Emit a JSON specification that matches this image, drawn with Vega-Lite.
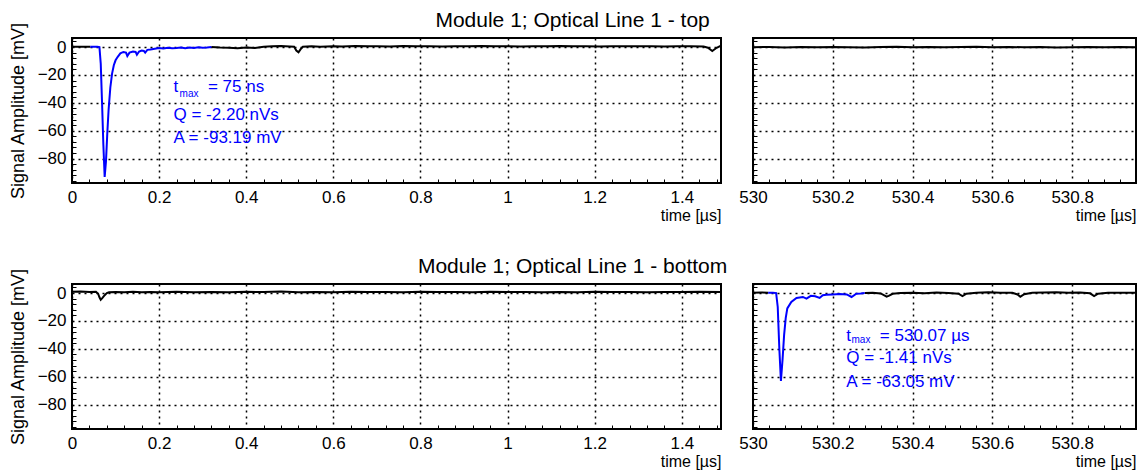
{
  "$schema": "https://vega.github.io/schema/vega-lite/v6.json",
  "padding": {"left": 8, "top": 9, "right": 5, "bottom": 5},
  "config": {
    "font": "Liberation Sans",
    "view": {"stroke": "#000000", "strokeWidth": 2},
    "axis": {"gridColor": "#000000", "gridDash": [2, 4], "gridWidth": 1.5, "gridOpacity": 1, "domain": false, "ticks": false, "labelFont": "Liberation Sans", "labelFontSize": 17, "labelColor": "#000000", "titleFont": "Liberation Sans", "titleFontSize": 16, "titleFontWeight": "normal", "titleColor": "#000000", "labelFlush": false, "labelOverlap": false, "labelBound": false, "minExtent": 0},
    "title": {"font": "Liberation Sans", "fontSize": 21, "fontWeight": "normal", "color": "#000000", "anchor": "middle", "offset": -10}
  },
  "datasets": {
    "wave": [
      {"p": "tl", "s": "k", "g": "a", "t": 0, "v": 0.3},
      {"p": "tl", "s": "k", "g": "a", "t": 0.02, "v": 0.2},
      {"p": "tl", "s": "k", "g": "a", "t": 0.042, "v": 0.3},
      {"p": "tl", "s": "k", "g": "b", "t": 0.32, "v": 0.1},
      {"p": "tl", "s": "k", "g": "b", "t": 0.34, "v": -0.3},
      {"p": "tl", "s": "k", "g": "b", "t": 0.36, "v": -0.5},
      {"p": "tl", "s": "k", "g": "b", "t": 0.38, "v": -0.8},
      {"p": "tl", "s": "k", "g": "b", "t": 0.4, "v": -0.4},
      {"p": "tl", "s": "k", "g": "b", "t": 0.42, "v": -0.6},
      {"p": "tl", "s": "k", "g": "b", "t": 0.44, "v": 0.3},
      {"p": "tl", "s": "k", "g": "b", "t": 0.46, "v": 0.5},
      {"p": "tl", "s": "k", "g": "b", "t": 0.48, "v": 0.8},
      {"p": "tl", "s": "k", "g": "b", "t": 0.5, "v": 0.4},
      {"p": "tl", "s": "k", "g": "b", "t": 0.51, "v": 0.2},
      {"p": "tl", "s": "k", "g": "b", "t": 0.515, "v": -2.5},
      {"p": "tl", "s": "k", "g": "b", "t": 0.52, "v": -3.8},
      {"p": "tl", "s": "k", "g": "b", "t": 0.525, "v": -1.5},
      {"p": "tl", "s": "k", "g": "b", "t": 0.53, "v": 0.2},
      {"p": "tl", "s": "k", "g": "b", "t": 0.55, "v": 0.5},
      {"p": "tl", "s": "k", "g": "b", "t": 0.57, "v": 0.3},
      {"p": "tl", "s": "k", "g": "b", "t": 0.6, "v": 0.6},
      {"p": "tl", "s": "k", "g": "b", "t": 0.62, "v": 0.4},
      {"p": "tl", "s": "k", "g": "b", "t": 0.65, "v": 0.7},
      {"p": "tl", "s": "k", "g": "b", "t": 0.68, "v": 0.5},
      {"p": "tl", "s": "k", "g": "b", "t": 0.7, "v": 0.6},
      {"p": "tl", "s": "k", "g": "b", "t": 0.73, "v": 0.4},
      {"p": "tl", "s": "k", "g": "b", "t": 0.76, "v": 0.7},
      {"p": "tl", "s": "k", "g": "b", "t": 0.79, "v": 0.5},
      {"p": "tl", "s": "k", "g": "b", "t": 0.82, "v": 0.6},
      {"p": "tl", "s": "k", "g": "b", "t": 0.85, "v": 0.4},
      {"p": "tl", "s": "k", "g": "b", "t": 0.88, "v": 0.6},
      {"p": "tl", "s": "k", "g": "b", "t": 0.91, "v": 0.5},
      {"p": "tl", "s": "k", "g": "b", "t": 0.94, "v": 0.7},
      {"p": "tl", "s": "k", "g": "b", "t": 0.97, "v": 0.5},
      {"p": "tl", "s": "k", "g": "b", "t": 1.0, "v": 0.6},
      {"p": "tl", "s": "k", "g": "b", "t": 1.03, "v": 0.4},
      {"p": "tl", "s": "k", "g": "b", "t": 1.06, "v": 0.6},
      {"p": "tl", "s": "k", "g": "b", "t": 1.09, "v": 0.5},
      {"p": "tl", "s": "k", "g": "b", "t": 1.12, "v": 0.7},
      {"p": "tl", "s": "k", "g": "b", "t": 1.15, "v": 0.5},
      {"p": "tl", "s": "k", "g": "b", "t": 1.18, "v": 0.6},
      {"p": "tl", "s": "k", "g": "b", "t": 1.21, "v": 0.4},
      {"p": "tl", "s": "k", "g": "b", "t": 1.24, "v": 0.6},
      {"p": "tl", "s": "k", "g": "b", "t": 1.27, "v": 0.5},
      {"p": "tl", "s": "k", "g": "b", "t": 1.3, "v": 0.6},
      {"p": "tl", "s": "k", "g": "b", "t": 1.33, "v": 0.5},
      {"p": "tl", "s": "k", "g": "b", "t": 1.36, "v": 0.4},
      {"p": "tl", "s": "k", "g": "b", "t": 1.39, "v": 0.6},
      {"p": "tl", "s": "k", "g": "b", "t": 1.42, "v": 0.5},
      {"p": "tl", "s": "k", "g": "b", "t": 1.45, "v": 0.4},
      {"p": "tl", "s": "k", "g": "b", "t": 1.46, "v": -0.5},
      {"p": "tl", "s": "k", "g": "b", "t": 1.47, "v": -2.8},
      {"p": "tl", "s": "k", "g": "b", "t": 1.48, "v": -0.5},
      {"p": "tl", "s": "k", "g": "b", "t": 1.49, "v": 1.0},
      {"p": "tl", "s": "b", "g": "a", "t": 0.042, "v": 0.3},
      {"p": "tl", "s": "b", "g": "a", "t": 0.05, "v": 0.3},
      {"p": "tl", "s": "b", "g": "a", "t": 0.058, "v": 0.2},
      {"p": "tl", "s": "b", "g": "a", "t": 0.063, "v": 0},
      {"p": "tl", "s": "b", "g": "a", "t": 0.066, "v": -12},
      {"p": "tl", "s": "b", "g": "a", "t": 0.069, "v": -40},
      {"p": "tl", "s": "b", "g": "a", "t": 0.072, "v": -70},
      {"p": "tl", "s": "b", "g": "a", "t": 0.075, "v": -93.19},
      {"p": "tl", "s": "b", "g": "a", "t": 0.078, "v": -82},
      {"p": "tl", "s": "b", "g": "a", "t": 0.081, "v": -62},
      {"p": "tl", "s": "b", "g": "a", "t": 0.084, "v": -45},
      {"p": "tl", "s": "b", "g": "a", "t": 0.088, "v": -29},
      {"p": "tl", "s": "b", "g": "a", "t": 0.092, "v": -19},
      {"p": "tl", "s": "b", "g": "a", "t": 0.096, "v": -13},
      {"p": "tl", "s": "b", "g": "a", "t": 0.1, "v": -9.5},
      {"p": "tl", "s": "b", "g": "a", "t": 0.105, "v": -7},
      {"p": "tl", "s": "b", "g": "a", "t": 0.111, "v": -4.5},
      {"p": "tl", "s": "b", "g": "a", "t": 0.118, "v": -3.5},
      {"p": "tl", "s": "b", "g": "a", "t": 0.124, "v": -4},
      {"p": "tl", "s": "b", "g": "a", "t": 0.127, "v": -6.5},
      {"p": "tl", "s": "b", "g": "a", "t": 0.132, "v": -4},
      {"p": "tl", "s": "b", "g": "a", "t": 0.14, "v": -3.2},
      {"p": "tl", "s": "b", "g": "a", "t": 0.146, "v": -3.5},
      {"p": "tl", "s": "b", "g": "a", "t": 0.149, "v": -5.5},
      {"p": "tl", "s": "b", "g": "a", "t": 0.154, "v": -3.2},
      {"p": "tl", "s": "b", "g": "a", "t": 0.16, "v": -2.5},
      {"p": "tl", "s": "b", "g": "a", "t": 0.165, "v": -2.8},
      {"p": "tl", "s": "b", "g": "a", "t": 0.168, "v": -4},
      {"p": "tl", "s": "b", "g": "a", "t": 0.173, "v": -2},
      {"p": "tl", "s": "b", "g": "a", "t": 0.18, "v": -1.8},
      {"p": "tl", "s": "b", "g": "a", "t": 0.19, "v": -1.2},
      {"p": "tl", "s": "b", "g": "a", "t": 0.2, "v": -0.6},
      {"p": "tl", "s": "b", "g": "a", "t": 0.21, "v": -1},
      {"p": "tl", "s": "b", "g": "a", "t": 0.22, "v": -0.5},
      {"p": "tl", "s": "b", "g": "a", "t": 0.23, "v": -0.8},
      {"p": "tl", "s": "b", "g": "a", "t": 0.24, "v": -0.6},
      {"p": "tl", "s": "b", "g": "a", "t": 0.25, "v": -0.3},
      {"p": "tl", "s": "b", "g": "a", "t": 0.26, "v": -0.9},
      {"p": "tl", "s": "b", "g": "a", "t": 0.27, "v": -0.4},
      {"p": "tl", "s": "b", "g": "a", "t": 0.28, "v": -0.7},
      {"p": "tl", "s": "b", "g": "a", "t": 0.29, "v": -0.2},
      {"p": "tl", "s": "b", "g": "a", "t": 0.3, "v": -0.5},
      {"p": "tl", "s": "b", "g": "a", "t": 0.31, "v": -0.3},
      {"p": "tl", "s": "b", "g": "a", "t": 0.32, "v": 0.1},
      {"p": "tr", "s": "k", "g": "a", "t": 530.0, "v": -0.2},
      {"p": "tr", "s": "k", "g": "a", "t": 530.04, "v": 0.1},
      {"p": "tr", "s": "k", "g": "a", "t": 530.08, "v": -0.3},
      {"p": "tr", "s": "k", "g": "a", "t": 530.12, "v": 0.0},
      {"p": "tr", "s": "k", "g": "a", "t": 530.16, "v": -0.2},
      {"p": "tr", "s": "k", "g": "a", "t": 530.2, "v": 0.1},
      {"p": "tr", "s": "k", "g": "a", "t": 530.24, "v": -0.1},
      {"p": "tr", "s": "k", "g": "a", "t": 530.28, "v": -0.3},
      {"p": "tr", "s": "k", "g": "a", "t": 530.32, "v": 0.0},
      {"p": "tr", "s": "k", "g": "a", "t": 530.36, "v": 0.2},
      {"p": "tr", "s": "k", "g": "a", "t": 530.4, "v": -0.1},
      {"p": "tr", "s": "k", "g": "a", "t": 530.44, "v": 0.1},
      {"p": "tr", "s": "k", "g": "a", "t": 530.48, "v": -0.2},
      {"p": "tr", "s": "k", "g": "a", "t": 530.52, "v": 0.0},
      {"p": "tr", "s": "k", "g": "a", "t": 530.56, "v": 0.2},
      {"p": "tr", "s": "k", "g": "a", "t": 530.6, "v": -0.1},
      {"p": "tr", "s": "k", "g": "a", "t": 530.64, "v": 0.1},
      {"p": "tr", "s": "k", "g": "a", "t": 530.68, "v": -0.2},
      {"p": "tr", "s": "k", "g": "a", "t": 530.72, "v": 0.0},
      {"p": "tr", "s": "k", "g": "a", "t": 530.76, "v": -0.3},
      {"p": "tr", "s": "k", "g": "a", "t": 530.8, "v": -0.1},
      {"p": "tr", "s": "k", "g": "a", "t": 530.84, "v": 0.1},
      {"p": "tr", "s": "k", "g": "a", "t": 530.88, "v": -0.2},
      {"p": "tr", "s": "k", "g": "a", "t": 530.92, "v": 0.0},
      {"p": "tr", "s": "k", "g": "a", "t": 530.96, "v": -0.2},
      {"p": "bl", "s": "k", "g": "a", "t": 0, "v": 0.9},
      {"p": "bl", "s": "k", "g": "a", "t": 0.02, "v": 1.1},
      {"p": "bl", "s": "k", "g": "a", "t": 0.04, "v": 0.8},
      {"p": "bl", "s": "k", "g": "a", "t": 0.055, "v": 0.9},
      {"p": "bl", "s": "k", "g": "a", "t": 0.06, "v": -0.5},
      {"p": "bl", "s": "k", "g": "a", "t": 0.063, "v": -3},
      {"p": "bl", "s": "k", "g": "a", "t": 0.066, "v": -4.8},
      {"p": "bl", "s": "k", "g": "a", "t": 0.07, "v": -3.5},
      {"p": "bl", "s": "k", "g": "a", "t": 0.075, "v": -1.5},
      {"p": "bl", "s": "k", "g": "a", "t": 0.08, "v": 0},
      {"p": "bl", "s": "k", "g": "a", "t": 0.085, "v": 0.6},
      {"p": "bl", "s": "k", "g": "a", "t": 0.1, "v": 0.8},
      {"p": "bl", "s": "k", "g": "a", "t": 0.12, "v": 0.5},
      {"p": "bl", "s": "k", "g": "a", "t": 0.14, "v": 0.9},
      {"p": "bl", "s": "k", "g": "a", "t": 0.16, "v": 0.6},
      {"p": "bl", "s": "k", "g": "a", "t": 0.18, "v": 0.8},
      {"p": "bl", "s": "k", "g": "a", "t": 0.2, "v": 0.5},
      {"p": "bl", "s": "k", "g": "a", "t": 0.24, "v": 0.9},
      {"p": "bl", "s": "k", "g": "a", "t": 0.28, "v": 0.6},
      {"p": "bl", "s": "k", "g": "a", "t": 0.32, "v": 0.8},
      {"p": "bl", "s": "k", "g": "a", "t": 0.36, "v": 0.5},
      {"p": "bl", "s": "k", "g": "a", "t": 0.4, "v": 0.9},
      {"p": "bl", "s": "k", "g": "a", "t": 0.44, "v": 0.7},
      {"p": "bl", "s": "k", "g": "a", "t": 0.48, "v": 1.1},
      {"p": "bl", "s": "k", "g": "a", "t": 0.52, "v": 0.6},
      {"p": "bl", "s": "k", "g": "a", "t": 0.56, "v": 0.8},
      {"p": "bl", "s": "k", "g": "a", "t": 0.6, "v": 0.5},
      {"p": "bl", "s": "k", "g": "a", "t": 0.64, "v": 0.9},
      {"p": "bl", "s": "k", "g": "a", "t": 0.68, "v": 0.7},
      {"p": "bl", "s": "k", "g": "a", "t": 0.72, "v": 0.8},
      {"p": "bl", "s": "k", "g": "a", "t": 0.76, "v": 0.5},
      {"p": "bl", "s": "k", "g": "a", "t": 0.8, "v": 0.9},
      {"p": "bl", "s": "k", "g": "a", "t": 0.84, "v": 0.7},
      {"p": "bl", "s": "k", "g": "a", "t": 0.88, "v": 0.8},
      {"p": "bl", "s": "k", "g": "a", "t": 0.92, "v": 0.6},
      {"p": "bl", "s": "k", "g": "a", "t": 0.96, "v": 0.9},
      {"p": "bl", "s": "k", "g": "a", "t": 1.0, "v": 0.7},
      {"p": "bl", "s": "k", "g": "a", "t": 1.04, "v": 0.8},
      {"p": "bl", "s": "k", "g": "a", "t": 1.08, "v": 0.5},
      {"p": "bl", "s": "k", "g": "a", "t": 1.12, "v": 0.8},
      {"p": "bl", "s": "k", "g": "a", "t": 1.16, "v": 0.6},
      {"p": "bl", "s": "k", "g": "a", "t": 1.2, "v": 0.9},
      {"p": "bl", "s": "k", "g": "a", "t": 1.24, "v": 0.7},
      {"p": "bl", "s": "k", "g": "a", "t": 1.28, "v": 0.8},
      {"p": "bl", "s": "k", "g": "a", "t": 1.32, "v": 0.6},
      {"p": "bl", "s": "k", "g": "a", "t": 1.36, "v": 0.8},
      {"p": "bl", "s": "k", "g": "a", "t": 1.4, "v": 0.7},
      {"p": "bl", "s": "k", "g": "a", "t": 1.44, "v": 0.9},
      {"p": "bl", "s": "k", "g": "a", "t": 1.49, "v": 0.7},
      {"p": "br", "s": "k", "g": "a", "t": 530.0, "v": 0.3},
      {"p": "br", "s": "k", "g": "a", "t": 530.02, "v": 0.4},
      {"p": "br", "s": "k", "g": "a", "t": 530.038, "v": 0.3},
      {"p": "br", "s": "k", "g": "b", "t": 530.28, "v": 0},
      {"p": "br", "s": "k", "g": "b", "t": 530.3, "v": 0.2},
      {"p": "br", "s": "k", "g": "b", "t": 530.32, "v": -0.3},
      {"p": "br", "s": "k", "g": "b", "t": 530.335, "v": -2.5},
      {"p": "br", "s": "k", "g": "b", "t": 530.34, "v": -2},
      {"p": "br", "s": "k", "g": "b", "t": 530.35, "v": -0.5},
      {"p": "br", "s": "k", "g": "b", "t": 530.37, "v": 0},
      {"p": "br", "s": "k", "g": "b", "t": 530.4, "v": 0.3},
      {"p": "br", "s": "k", "g": "b", "t": 530.43, "v": -0.2},
      {"p": "br", "s": "k", "g": "b", "t": 530.46, "v": 0.4},
      {"p": "br", "s": "k", "g": "b", "t": 530.49, "v": 0},
      {"p": "br", "s": "k", "g": "b", "t": 530.515, "v": -0.5},
      {"p": "br", "s": "k", "g": "b", "t": 530.525, "v": -2.2},
      {"p": "br", "s": "k", "g": "b", "t": 530.535, "v": -0.5},
      {"p": "br", "s": "k", "g": "b", "t": 530.56, "v": 0.3},
      {"p": "br", "s": "k", "g": "b", "t": 530.59, "v": 0.6},
      {"p": "br", "s": "k", "g": "b", "t": 530.62, "v": 0.3},
      {"p": "br", "s": "k", "g": "b", "t": 530.65, "v": 0.2},
      {"p": "br", "s": "k", "g": "b", "t": 530.663, "v": -1},
      {"p": "br", "s": "k", "g": "b", "t": 530.67, "v": -2.6},
      {"p": "br", "s": "k", "g": "b", "t": 530.68, "v": -0.8},
      {"p": "br", "s": "k", "g": "b", "t": 530.7, "v": 0.2},
      {"p": "br", "s": "k", "g": "b", "t": 530.73, "v": 0.4},
      {"p": "br", "s": "k", "g": "b", "t": 530.76, "v": 0.5},
      {"p": "br", "s": "k", "g": "b", "t": 530.79, "v": 0.3},
      {"p": "br", "s": "k", "g": "b", "t": 530.82, "v": 0.4},
      {"p": "br", "s": "k", "g": "b", "t": 530.845, "v": -0.2},
      {"p": "br", "s": "k", "g": "b", "t": 530.855, "v": -2.2},
      {"p": "br", "s": "k", "g": "b", "t": 530.865, "v": -0.5},
      {"p": "br", "s": "k", "g": "b", "t": 530.89, "v": 0.3},
      {"p": "br", "s": "k", "g": "b", "t": 530.92, "v": 0.2},
      {"p": "br", "s": "k", "g": "b", "t": 530.96, "v": 0.3},
      {"p": "br", "s": "b", "g": "a", "t": 530.038, "v": 0.3},
      {"p": "br", "s": "b", "g": "a", "t": 530.05, "v": 0.2},
      {"p": "br", "s": "b", "g": "a", "t": 530.058, "v": 0},
      {"p": "br", "s": "b", "g": "a", "t": 530.062, "v": -10},
      {"p": "br", "s": "b", "g": "a", "t": 530.066, "v": -40},
      {"p": "br", "s": "b", "g": "a", "t": 530.07, "v": -63.05},
      {"p": "br", "s": "b", "g": "a", "t": 530.074, "v": -48},
      {"p": "br", "s": "b", "g": "a", "t": 530.078, "v": -30},
      {"p": "br", "s": "b", "g": "a", "t": 530.082, "v": -18},
      {"p": "br", "s": "b", "g": "a", "t": 530.086, "v": -11},
      {"p": "br", "s": "b", "g": "a", "t": 530.096, "v": -6.4},
      {"p": "br", "s": "b", "g": "a", "t": 530.109, "v": -3.5},
      {"p": "br", "s": "b", "g": "a", "t": 530.125, "v": -2.8},
      {"p": "br", "s": "b", "g": "a", "t": 530.134, "v": -4},
      {"p": "br", "s": "b", "g": "a", "t": 530.145, "v": -2},
      {"p": "br", "s": "b", "g": "a", "t": 530.156, "v": -2.3},
      {"p": "br", "s": "b", "g": "a", "t": 530.167, "v": -3.5},
      {"p": "br", "s": "b", "g": "a", "t": 530.175, "v": -1.5},
      {"p": "br", "s": "b", "g": "a", "t": 530.184, "v": -1.2},
      {"p": "br", "s": "b", "g": "a", "t": 530.2, "v": -1},
      {"p": "br", "s": "b", "g": "a", "t": 530.217, "v": -0.7},
      {"p": "br", "s": "b", "g": "a", "t": 530.235, "v": -1},
      {"p": "br", "s": "b", "g": "a", "t": 530.247, "v": -2.8},
      {"p": "br", "s": "b", "g": "a", "t": 530.259, "v": -0.5},
      {"p": "br", "s": "b", "g": "a", "t": 530.27, "v": -0.3},
      {"p": "br", "s": "b", "g": "a", "t": 530.28, "v": 0}
    ],
    "notes": [
      {"p": "tl", "k": "main", "t": 0.233, "v": -32.5, "label": "t"},
      {"p": "tl", "k": "sub", "t": 0.247, "v": -36, "label": "max"},
      {"p": "tl", "k": "main", "t": 0.312, "v": -32.5, "label": "= 75 ns"},
      {"p": "tl", "k": "main", "t": 0.233, "v": -52.5, "label": "Q = -2.20 nVs"},
      {"p": "tl", "k": "main", "t": 0.233, "v": -69, "label": "A = -93.19 mV"},
      {"p": "br", "k": "main", "t": 530.234, "v": -34.1, "label": "t"},
      {"p": "br", "k": "sub", "t": 530.247, "v": -35.5, "label": "max"},
      {"p": "br", "k": "main", "t": 530.318, "v": -34.1, "label": "= 530.07 µs"},
      {"p": "br", "k": "main", "t": 530.234, "v": -49.9, "label": "Q = -1.41 nVs"},
      {"p": "br", "k": "main", "t": 530.234, "v": -67.5, "label": "A = -63.05 mV"}
    ]
  },
  "spacing": 31,
  "vconcat": [
    {
      "title": {"text": "Module 1; Optical Line 1 - top"},
      "spacing": 15,
      "hconcat": [
        {
          "width": 649, "height": 145,
          "resolve": {"axis": {"x": "independent", "y": "independent"}},
          "layer": [
            {"data": {"name": "wave"}, "transform": [{"filter": "datum.p === 'tl' && datum.s === 'k'"}],
             "mark": {"type": "line", "color": "#000000", "strokeWidth": 2, "clip": true},
             "encoding": {
               "x": {"field": "t", "type": "quantitative", "scale": {"domain": [0, 1.49], "nice": false, "zero": false}, "axis": {"orient": "bottom", "title": "time [µs]", "titleAnchor": "end", "format": "~g", "values": [0, 0.2, 0.4, 0.6, 0.8, 1, 1.2, 1.4], "labelPadding": 6, "titlePadding": 2, "labelOverlap": false}},
               "y": {"field": "v", "type": "quantitative", "scale": {"domain": [-97.5, 6.5], "nice": false, "zero": false}, "axis": {"orient": "left", "title": "Signal Amplitude [mV]", "titleFontSize": 18, "values": [0, -20, -40, -60, -80], "labelPadding": 6, "titlePadding": 10, "labelOverlap": false}},
               "detail": {"field": "g"}
             }},
            {"data": {"name": "wave"}, "transform": [{"filter": "datum.p === 'tl' && datum.s === 'b'"}],
             "mark": {"type": "line", "color": "#0000ff", "strokeWidth": 2, "clip": true},
             "encoding": {
               "x": {"field": "t", "type": "quantitative", "axis": {"orient": "bottom", "title": null, "labels": false, "grid": false, "ticks": true, "tickSize": -4, "tickColor": "#000000", "tickWidth": 1, "values": [0.04, 0.08, 0.12, 0.16, 0.24, 0.28, 0.32, 0.36, 0.44, 0.48, 0.52, 0.56, 0.64, 0.68, 0.72, 0.76, 0.84, 0.88, 0.92, 0.96, 1.04, 1.08, 1.12, 1.16, 1.24, 1.28, 1.32, 1.36, 1.44, 1.48]}},
               "y": {"field": "v", "type": "quantitative", "axis": {"orient": "left", "title": null, "labels": false, "grid": false, "ticks": true, "tickSize": -4, "tickColor": "#000000", "tickWidth": 1, "values": [4, -4, -8, -12, -16, -24, -28, -32, -36, -44, -48, -52, -56, -64, -68, -72, -76, -84, -88, -92, -96]}},
               "detail": {"field": "g"}
             }},
            {"data": {"name": "notes"}, "transform": [{"filter": "datum.p === 'tl' && datum.k === 'main'"}],
             "mark": {"type": "text", "color": "#0000ff", "fontSize": 17, "align": "left", "baseline": "alphabetic", "font": "Liberation Sans"},
             "encoding": {"x": {"field": "t", "type": "quantitative", "axis": null}, "y": {"field": "v", "type": "quantitative", "axis": null}, "text": {"field": "label"}}},
            {"data": {"name": "notes"}, "transform": [{"filter": "datum.p === 'tl' && datum.k === 'sub'"}],
             "mark": {"type": "text", "color": "#0000ff", "fontSize": 10, "align": "left", "baseline": "alphabetic", "font": "Liberation Sans"},
             "encoding": {"x": {"field": "t", "type": "quantitative", "axis": null}, "y": {"field": "v", "type": "quantitative", "axis": null}, "text": {"field": "label"}}}
          ]
        },
        {
          "width": 383, "height": 145,
          "resolve": {"axis": {"x": "independent", "y": "independent"}},
          "layer": [
            {"data": {"name": "wave"}, "transform": [{"filter": "datum.p === 'tr' && datum.s === 'k'"}],
             "mark": {"type": "line", "color": "#000000", "strokeWidth": 2, "clip": true},
             "encoding": {
               "x": {"field": "t", "type": "quantitative", "scale": {"domain": [530, 530.96], "nice": false, "zero": false}, "axis": {"orient": "bottom", "title": "time [µs]", "titleAnchor": "end", "format": "~g", "values": [530, 530.2, 530.4, 530.6, 530.8], "labelPadding": 6, "titlePadding": 2, "labelOverlap": false}},
               "y": {"field": "v", "type": "quantitative", "scale": {"domain": [-97.5, 6.5], "nice": false, "zero": false}, "axis": {"orient": "left", "title": null, "labels": false, "values": [0, -20, -40, -60, -80]}},
               "detail": {"field": "g"}
             }},
            {"data": {"name": "wave"}, "transform": [{"filter": "datum.p === 'tr' && datum.s === 'k'"}],
             "mark": {"type": "line", "opacity": 0},
             "encoding": {
               "x": {"field": "t", "type": "quantitative", "axis": {"orient": "bottom", "title": null, "labels": false, "grid": false, "ticks": true, "tickSize": -4, "tickColor": "#000000", "tickWidth": 1, "values": [530.04, 530.08, 530.12, 530.16, 530.24, 530.28, 530.32, 530.36, 530.44, 530.48, 530.52, 530.56, 530.64, 530.68, 530.72, 530.76, 530.84, 530.88, 530.92]}},
               "y": {"field": "v", "type": "quantitative", "axis": {"orient": "left", "title": null, "labels": false, "grid": false, "ticks": true, "tickSize": -4, "tickColor": "#000000", "tickWidth": 1, "values": [4, -4, -8, -12, -16, -24, -28, -32, -36, -44, -48, -52, -56, -64, -68, -72, -76, -84, -88, -92, -96]}},
               "detail": {"field": "g"}
             }}
          ]
        }
      ]
    },
    {
      "title": {"text": "Module 1; Optical Line 1 - bottom"},
      "spacing": 15,
      "hconcat": [
        {
          "width": 649, "height": 145,
          "resolve": {"axis": {"x": "independent", "y": "independent"}},
          "layer": [
            {"data": {"name": "wave"}, "transform": [{"filter": "datum.p === 'bl' && datum.s === 'k'"}],
             "mark": {"type": "line", "color": "#000000", "strokeWidth": 2, "clip": true},
             "encoding": {
               "x": {"field": "t", "type": "quantitative", "scale": {"domain": [0, 1.49], "nice": false, "zero": false}, "axis": {"orient": "bottom", "title": "time [µs]", "titleAnchor": "end", "format": "~g", "values": [0, 0.2, 0.4, 0.6, 0.8, 1, 1.2, 1.4], "labelPadding": 6, "titlePadding": 2, "labelOverlap": false}},
               "y": {"field": "v", "type": "quantitative", "scale": {"domain": [-97.5, 6.5], "nice": false, "zero": false}, "axis": {"orient": "left", "title": "Signal Amplitude [mV]", "titleFontSize": 18, "values": [0, -20, -40, -60, -80], "labelPadding": 6, "titlePadding": 10, "labelOverlap": false}},
               "detail": {"field": "g"}
             }},
            {"data": {"name": "wave"}, "transform": [{"filter": "datum.p === 'bl' && datum.s === 'k'"}],
             "mark": {"type": "line", "opacity": 0},
             "encoding": {
               "x": {"field": "t", "type": "quantitative", "axis": {"orient": "bottom", "title": null, "labels": false, "grid": false, "ticks": true, "tickSize": -4, "tickColor": "#000000", "tickWidth": 1, "values": [0.04, 0.08, 0.12, 0.16, 0.24, 0.28, 0.32, 0.36, 0.44, 0.48, 0.52, 0.56, 0.64, 0.68, 0.72, 0.76, 0.84, 0.88, 0.92, 0.96, 1.04, 1.08, 1.12, 1.16, 1.24, 1.28, 1.32, 1.36, 1.44, 1.48]}},
               "y": {"field": "v", "type": "quantitative", "axis": {"orient": "left", "title": null, "labels": false, "grid": false, "ticks": true, "tickSize": -4, "tickColor": "#000000", "tickWidth": 1, "values": [4, -4, -8, -12, -16, -24, -28, -32, -36, -44, -48, -52, -56, -64, -68, -72, -76, -84, -88, -92, -96]}},
               "detail": {"field": "g"}
             }}
          ]
        },
        {
          "width": 383, "height": 145,
          "resolve": {"axis": {"x": "independent", "y": "independent"}},
          "layer": [
            {"data": {"name": "wave"}, "transform": [{"filter": "datum.p === 'br' && datum.s === 'k'"}],
             "mark": {"type": "line", "color": "#000000", "strokeWidth": 2, "clip": true},
             "encoding": {
               "x": {"field": "t", "type": "quantitative", "scale": {"domain": [530, 530.96], "nice": false, "zero": false}, "axis": {"orient": "bottom", "title": "time [µs]", "titleAnchor": "end", "format": "~g", "values": [530, 530.2, 530.4, 530.6, 530.8], "labelPadding": 6, "titlePadding": 2, "labelOverlap": false}},
               "y": {"field": "v", "type": "quantitative", "scale": {"domain": [-97.5, 6.5], "nice": false, "zero": false}, "axis": {"orient": "left", "title": null, "labels": false, "values": [0, -20, -40, -60, -80]}},
               "detail": {"field": "g"}
             }},
            {"data": {"name": "wave"}, "transform": [{"filter": "datum.p === 'br' && datum.s === 'b'"}],
             "mark": {"type": "line", "color": "#0000ff", "strokeWidth": 2, "clip": true},
             "encoding": {
               "x": {"field": "t", "type": "quantitative", "axis": {"orient": "bottom", "title": null, "labels": false, "grid": false, "ticks": true, "tickSize": -4, "tickColor": "#000000", "tickWidth": 1, "values": [530.04, 530.08, 530.12, 530.16, 530.24, 530.28, 530.32, 530.36, 530.44, 530.48, 530.52, 530.56, 530.64, 530.68, 530.72, 530.76, 530.84, 530.88, 530.92]}},
               "y": {"field": "v", "type": "quantitative", "axis": {"orient": "left", "title": null, "labels": false, "grid": false, "ticks": true, "tickSize": -4, "tickColor": "#000000", "tickWidth": 1, "values": [4, -4, -8, -12, -16, -24, -28, -32, -36, -44, -48, -52, -56, -64, -68, -72, -76, -84, -88, -92, -96]}},
               "detail": {"field": "g"}
             }},
            {"data": {"name": "notes"}, "transform": [{"filter": "datum.p === 'br' && datum.k === 'main'"}],
             "mark": {"type": "text", "color": "#0000ff", "fontSize": 17, "align": "left", "baseline": "alphabetic", "font": "Liberation Sans"},
             "encoding": {"x": {"field": "t", "type": "quantitative", "axis": null}, "y": {"field": "v", "type": "quantitative", "axis": null}, "text": {"field": "label"}}},
            {"data": {"name": "notes"}, "transform": [{"filter": "datum.p === 'br' && datum.k === 'sub'"}],
             "mark": {"type": "text", "color": "#0000ff", "fontSize": 10, "align": "left", "baseline": "alphabetic", "font": "Liberation Sans"},
             "encoding": {"x": {"field": "t", "type": "quantitative", "axis": null}, "y": {"field": "v", "type": "quantitative", "axis": null}, "text": {"field": "label"}}}
          ]
        }
      ]
    }
  ]
}
